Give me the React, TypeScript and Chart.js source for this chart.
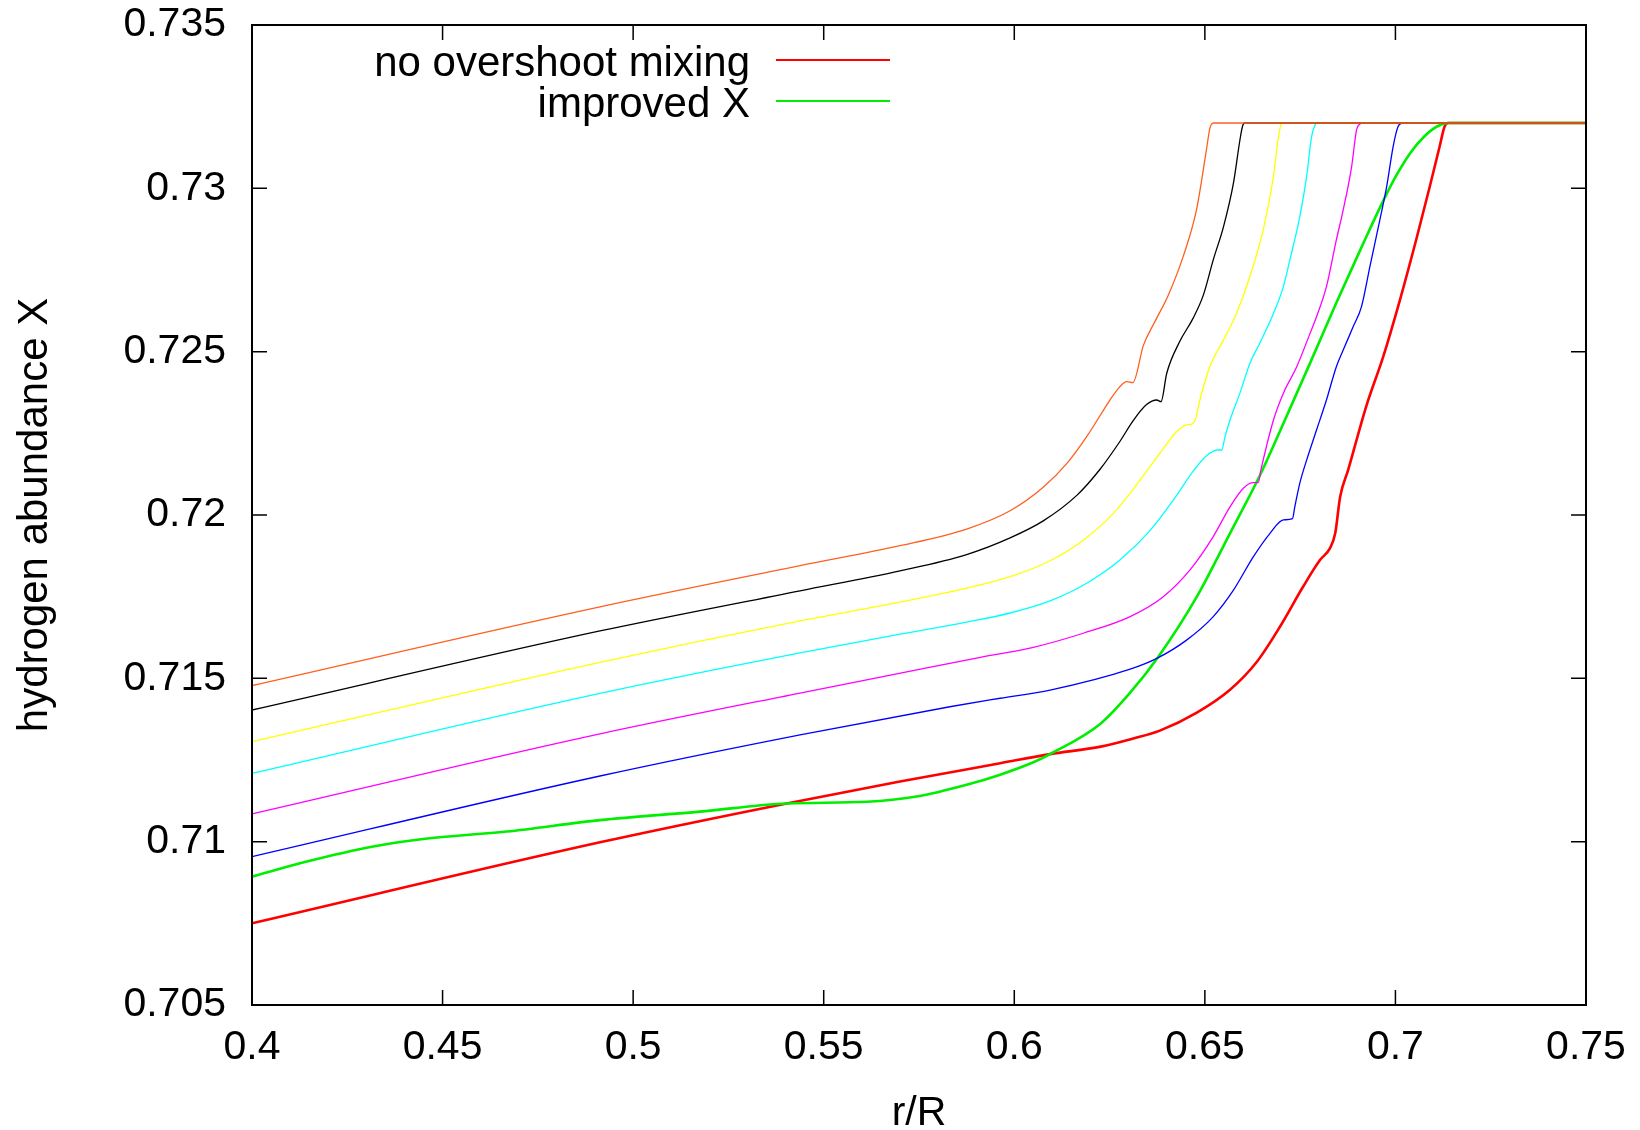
import React, { useEffect, useRef } from 'react';
import { Chart, registerables } from 'chart.js';

Chart.register(...registerables);

// ---- axes ----
const xTicks = [0.4, 0.45, 0.5, 0.55, 0.6, 0.65, 0.7, 0.75];
const xTickLabels = ['0.4', '0.45', '0.5', '0.55', '0.6', '0.65', '0.7', '0.75'];
const yTicks = [0.705, 0.71, 0.715, 0.72, 0.725, 0.73, 0.735];
const yTickLabels = ['0.705', '0.71', '0.715', '0.72', '0.725', '0.73', '0.735'];
const xTitle = 'r/R';
const yTitle = 'hydrogen abundance X';

// ---- series (r/R, X) ----
const redLabel = 'no overshoot mixing';
const redR = [0.4, 0.4913, 0.5403, 0.57, 0.5963, 0.6094, 0.6227, 0.6312, 0.6382, 0.6479, 0.6566, 0.6636, 0.6697, 0.6758, 0.6802, 0.6828, 0.6842, 0.6855, 0.6876, 0.6924, 0.6968, 0.7011, 0.7055, 0.709, 0.7116, 0.7129, 0.7138, 0.75];
const redX = [0.7075, 0.70998, 0.71117, 0.71184, 0.7124, 0.71268, 0.71291, 0.71316, 0.7134, 0.71395, 0.71465, 0.7155, 0.71658, 0.71781, 0.71862, 0.71898, 0.71944, 0.72056, 0.72138, 0.72335, 0.72485, 0.72655, 0.72845, 0.73005, 0.73128, 0.73189, 0.732, 0.732];

const greenLabel = 'improved X';
const greenR = [0.4, 0.4144, 0.4318, 0.4449, 0.4668, 0.4913, 0.5175, 0.5403, 0.5613, 0.5744, 0.5875, 0.5963, 0.605, 0.6094, 0.6227, 0.6304, 0.6378, 0.6479, 0.6566, 0.6644, 0.6706, 0.6776, 0.6845, 0.6915, 0.6973, 0.7005, 0.704, 0.7075, 0.711, 0.714, 0.75];
const greenX = [0.70893, 0.70939, 0.70985, 0.71008, 0.71031, 0.71066, 0.71092, 0.71117, 0.71122, 0.71138, 0.71174, 0.71205, 0.71243, 0.71268, 0.71362, 0.71456, 0.71566, 0.7175, 0.71944, 0.7212, 0.7228, 0.72465, 0.7265, 0.7283, 0.72974, 0.73045, 0.7311, 0.73158, 0.7319, 0.732, 0.732];

const blueR = [0.4, 0.4913, 0.5438, 0.5831, 0.5963, 0.6094, 0.6304, 0.6374, 0.6452, 0.6522, 0.6575, 0.6627, 0.6671, 0.6706, 0.673, 0.6736, 0.6749, 0.6767, 0.6793, 0.6819, 0.6845, 0.6863, 0.6889, 0.6911, 0.6933, 0.6959, 0.6977, 0.6994, 0.7007, 0.702, 0.75];
const blueX = [0.70954, 0.71201, 0.71327, 0.71413, 0.71439, 0.71464, 0.71528, 0.71561, 0.71617, 0.71689, 0.7177, 0.71872, 0.71944, 0.71985, 0.71989, 0.72025, 0.72097, 0.72168, 0.7226, 0.72352, 0.72454, 0.72505, 0.72576, 0.72638, 0.7276, 0.72903, 0.73005, 0.73128, 0.73189, 0.732, 0.732];

const magentaR = [0.4, 0.4913, 0.5438, 0.5831, 0.5901, 0.605, 0.6181, 0.6304, 0.6391, 0.6461, 0.6522, 0.6566, 0.6601, 0.6627, 0.664, 0.6647, 0.668, 0.6706, 0.6741, 0.6776, 0.6793, 0.6819, 0.6845, 0.6863, 0.6885, 0.6898, 0.6907, 0.6913, 0.75];
const magentaX = [0.71085, 0.7133, 0.71455, 0.71546, 0.71562, 0.71595, 0.71638, 0.71689, 0.7175, 0.71832, 0.71934, 0.72025, 0.72082, 0.72099, 0.72099, 0.72138, 0.72291, 0.72373, 0.72454, 0.72556, 0.72607, 0.72699, 0.72842, 0.72934, 0.73066, 0.73179, 0.73197, 0.732, 0.732];

const cyanR = [0.4, 0.4913, 0.5438, 0.57, 0.5875, 0.5989, 0.6094, 0.619, 0.6277, 0.6356, 0.6417, 0.647, 0.6505, 0.6535, 0.6544, 0.6553, 0.6566, 0.6592, 0.6618, 0.6644, 0.668, 0.6706, 0.6723, 0.6749, 0.6767, 0.678, 0.6789, 0.6795, 0.75];
const cyanX = [0.71209, 0.71454, 0.71578, 0.71635, 0.71672, 0.717, 0.71737, 0.71791, 0.71862, 0.71952, 0.72045, 0.72135, 0.72182, 0.72199, 0.72199, 0.7224, 0.72291, 0.72373, 0.72464, 0.72526, 0.72617, 0.72699, 0.72781, 0.72913, 0.73036, 0.73158, 0.73194, 0.732, 0.732];

const yellowR = [0.4, 0.4913, 0.5438, 0.57, 0.5875, 0.5989, 0.6094, 0.6181, 0.626, 0.633, 0.6382, 0.6426, 0.6452, 0.6467, 0.6476, 0.6487, 0.6513, 0.6549, 0.6583, 0.6618, 0.6653, 0.668, 0.6693, 0.6701, 0.6708, 0.75];
const yellowX = [0.71306, 0.71549, 0.71676, 0.71733, 0.71776, 0.71811, 0.7186, 0.71923, 0.72005, 0.72107, 0.72189, 0.72255, 0.72276, 0.72279, 0.72295, 0.72352, 0.72454, 0.72536, 0.72617, 0.7273, 0.72872, 0.73036, 0.73158, 0.73197, 0.732, 0.732];

const blackR = [0.4, 0.4913, 0.5438, 0.57, 0.5875, 0.5989, 0.6076, 0.6164, 0.6225, 0.6277, 0.6312, 0.6347, 0.6374, 0.6385, 0.64, 0.6434, 0.6469, 0.6496, 0.6522, 0.6549, 0.6575, 0.6592, 0.6599, 0.6605, 0.75];
const blackX = [0.71403, 0.71645, 0.71768, 0.71829, 0.71879, 0.7193, 0.71982, 0.7206, 0.7214, 0.72225, 0.72289, 0.72338, 0.72352, 0.72347, 0.72434, 0.72531, 0.72602, 0.72673, 0.72781, 0.72883, 0.73016, 0.73148, 0.73191, 0.732, 0.732];

const orangeR = [0.4, 0.4913, 0.5438, 0.57, 0.5875, 0.5989, 0.6076, 0.6138, 0.619, 0.6251, 0.6275, 0.6295, 0.6311, 0.6339, 0.6369, 0.6404, 0.6443, 0.6478, 0.6504, 0.6513, 0.6522, 0.75];
const orangeX = [0.71478, 0.71719, 0.71845, 0.71906, 0.71957, 0.72013, 0.72085, 0.72158, 0.7224, 0.72352, 0.7239, 0.72408, 0.72405, 0.7252, 0.72592, 0.72673, 0.72791, 0.72934, 0.73117, 0.73183, 0.732, 0.732];

const FONT = '"Liberation Sans", Arial, Helvetica, sans-serif';
const FS = 41;
const FS_KEY = 42;

const zip = (r: number[], x: number[]) => r.map((v, i) => ({ x: v, y: x[i] }));

const series = [
  { label: '', r: orangeR, x: orangeX, color: '#ff5f1f', width: 1.3, legend: false },
  { label: '', r: blackR, x: blackX, color: '#000000', width: 1.3, legend: false },
  { label: '', r: yellowR, x: yellowX, color: '#ffff00', width: 1.3, legend: false },
  { label: '', r: cyanR, x: cyanX, color: '#00ffff', width: 1.3, legend: false },
  { label: '', r: magentaR, x: magentaX, color: '#ff00ff', width: 1.3, legend: false },
  { label: '', r: blueR, x: blueX, color: '#0000ff', width: 1.3, legend: false },
  { label: greenLabel, r: greenR, x: greenX, color: '#00ee00', width: 2.6, legend: true },
  { label: redLabel, r: redR, x: redX, color: '#ff0000', width: 2.6, legend: true },
];

const framePlugin = {
  id: 'gnuFrame',
  afterDatasetsDraw(chart: any) {
    const { ctx, chartArea: a, scales } = chart;
    ctx.save();
    ctx.strokeStyle = '#000';
    ctx.lineWidth = 1.5;
    const tl = 15;
    ctx.beginPath();
    for (const t of scales.x.ticks) {
      const px = scales.x.getPixelForValue(t.value);
      ctx.moveTo(px, a.bottom);
      ctx.lineTo(px, a.bottom - tl);
      ctx.moveTo(px, a.top);
      ctx.lineTo(px, a.top + tl);
    }
    for (const t of scales.y.ticks) {
      const py = scales.y.getPixelForValue(t.value);
      ctx.moveTo(a.left, py);
      ctx.lineTo(a.left + tl, py);
      ctx.moveTo(a.right, py);
      ctx.lineTo(a.right - tl, py);
    }
    ctx.stroke();
    ctx.lineWidth = 2;
    ctx.strokeRect(a.left, a.top, a.right - a.left, a.bottom - a.top);

    // gnuplot-style key: text right-aligned, then line sample
    const legendItems = chart.data.datasets
      .map((d: any, i: number) => ({ d, i }))
      .filter((o: any) => series[o.i].legend)
      .reverse();
    ctx.font = `${FS_KEY}px ${FONT}`;
    ctx.textAlign = 'right';
    ctx.textBaseline = 'middle';
    ctx.fillStyle = '#000';
    legendItems.forEach((o: any, k: number) => {
      const y = 60 + k * 41;
      ctx.fillText(o.d.label, 750, y + 4);
      ctx.beginPath();
      ctx.strokeStyle = o.d.borderColor;
      ctx.lineWidth = 2;
      ctx.moveTo(776, y);
      ctx.lineTo(890, y);
      ctx.stroke();
    });
    ctx.restore();
  },
};

const zeroPad = (s: any) => {
  s.paddingTop = 0;
  s.paddingBottom = 0;
  s.paddingLeft = 0;
  s.paddingRight = 0;
};

export default function App() {
  const ref = useRef<HTMLCanvasElement | null>(null);
  useEffect(() => {
    if (!ref.current) return;
    const chart = new Chart(ref.current, {
      type: 'line',
      data: {
        datasets: series.map((s) => ({
          label: s.label,
          data: zip(s.r, s.x),
          borderColor: s.color,
          backgroundColor: s.color,
          borderWidth: s.width,
          pointRadius: 0,
          fill: false,
          cubicInterpolationMode: 'monotone' as const,
        })),
      },
      options: {
        animation: false,
        responsive: false,
        layout: { padding: { left: 0, top: 25, right: 54, bottom: 0 } },
        plugins: { legend: { display: false }, tooltip: { enabled: false } },
        scales: {
          x: {
            type: 'linear',
            min: 0.4,
            max: 0.75,
            afterBuildTicks: (s: any) => {
              s.ticks = xTicks.map((v) => ({ value: v }));
            },
            afterFit: (s: any) => {
              s.height = 125;
              zeroPad(s);
            },
            grid: { display: false, drawTicks: false },
            border: { display: false },
            ticks: {
              padding: 22,
              color: '#000',
              font: { family: FONT, size: FS, lineHeight: 1 },
              maxRotation: 0,
              autoSkip: false,
              callback: (_v: any, i: number) => xTickLabels[i],
            },
            title: {
              display: true,
              text: xTitle,
              color: '#000',
              font: { family: FONT, size: FS, lineHeight: 0.82 },
              padding: { top: 0, bottom: 0 },
            },
          },
          y: {
            type: 'linear',
            min: 0.705,
            max: 0.735,
            afterBuildTicks: (s: any) => {
              s.ticks = yTicks.map((v) => ({ value: v }));
            },
            afterFit: (s: any) => {
              s.width = 252;
              zeroPad(s);
            },
            grid: { display: false, drawTicks: false },
            border: { display: false },
            ticks: {
              padding: 26,
              color: '#000',
              font: { family: FONT, size: FS, lineHeight: 1 },
              autoSkip: false,
              callback: (_v: any, i: number) => yTickLabels[i],
            },
            title: {
              display: true,
              text: yTitle,
              color: '#000',
              font: { family: FONT, size: FS_KEY, lineHeight: 1 },
              padding: { top: 14, bottom: 0 },
            },
          },
        },
      },
      plugins: [framePlugin],
    } as any);
    return () => chart.destroy();
  }, []);
  return (
    <div style={{ position: 'absolute', left: 0, top: 0, width: 1640, height: 1130, background: '#fff' }}>
      <canvas ref={ref} width={1640} height={1130} />
    </div>
  );
}
